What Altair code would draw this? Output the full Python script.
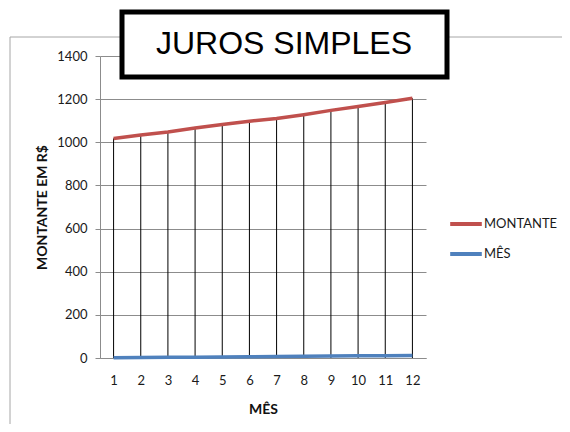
import altair as alt
import pandas as pd

meses = [1, 2, 3, 4, 5, 6, 7, 8, 9, 10, 11, 12]
montante = [1018, 1034, 1048, 1066, 1082, 1098, 1110, 1128, 1148, 1166, 1184, 1204]
mes_vals = [1, 2, 3, 4, 5, 6, 7, 8, 9, 10, 11, 12]
series = ["MONTANTE", "MÊS"]
cores = ["#C0504D", "#4F81BD"]
y_ticks = [0, 200, 400, 600, 800, 1000, 1200, 1400]
titulo = "JUROS SIMPLES"

long = pd.DataFrame({
    "mes": meses + meses,
    "serie": [series[0]] * 12 + [series[1]] * 12,
    "valor": montante + mes_vals,
})
drop = pd.DataFrame({"mes": meses, "montante": montante})
one = pd.DataFrame({"t": [titulo]})

FONT = "Lato"

xs = alt.Scale(domain=[0.5, 12.5], nice=False, zero=False)
ys = alt.Scale(domain=[0, 1400], nice=False)

x_axis = alt.Axis(values=meses, title="MÊS", grid=False, tickSize=0,
                  labelPadding=16, titlePadding=15, format="d", labelOverlap=False)
y_axis = alt.Axis(values=y_ticks, title="MONTANTE  EM R$", tickSize=5,
                  labelPadding=8, titlePadding=7, format="d")

frame = alt.Chart(one).mark_rect(fill=None, stroke="#a6a6a6", strokeWidth=1).encode(
    x=alt.value(-90), x2=alt.value(480), y=alt.value(-19), y2=alt.value(390)
)

drops = alt.Chart(drop).mark_rule(color="black", strokeWidth=1).encode(
    x=alt.X("mes:Q", scale=xs, axis=x_axis),
    y=alt.Y("montante:Q", scale=ys, axis=y_axis),
    y2=alt.datum(0),
)

lines = alt.Chart(long).mark_line(strokeWidth=3.5).encode(
    x=alt.X("mes:Q", scale=xs, axis=x_axis),
    y=alt.Y("valor:Q", scale=ys, axis=y_axis),
    color=alt.Color("serie:N", sort=series,
                    scale=alt.Scale(domain=series, range=cores),
                    legend=alt.Legend(title=None, orient="none", legendX=348, legendY=150,
                                      symbolType="stroke", symbolSize=1000,
                                      symbolStrokeWidth=4, rowPadding=4,
                                      labelFontSize=13, labelFont=FONT,
                                      labelColor="#1a1a1a", labelOffset=0)),
)

box = alt.Chart(one).mark_rect(fill="white", stroke="black", strokeWidth=5).encode(
    x=alt.value(22), x2=alt.value(347), y=alt.value(-44), y2=alt.value(21)
)
text = alt.Chart(one).mark_text(font="Liberation Sans", fontSize=32, color="black",
                                align="center", baseline="middle").encode(
    x=alt.value(184), y=alt.value(-12), text="t:N"
)

chart = alt.layer(frame, drops, lines, box, text).properties(
    width=326, height=302,
    autosize=alt.AutoSizeParams(type="none"),
    padding={"left": 92, "top": 48, "right": 136, "bottom": 66},
).configure_view(stroke=None).configure_axis(
    labelFont=FONT, labelFontSize=13, labelColor="#1a1a1a",
    titleFont=FONT, titleFontSize=14, titleFontWeight="bold", titleColor="#111",
    domainColor="#8c8c8c", tickColor="#8c8c8c", gridColor="#8c8c8c",
).configure_axisX(labelOverlap=False)

chart.save("out.html", embed_options={"renderer": "svg", "actions": False})
